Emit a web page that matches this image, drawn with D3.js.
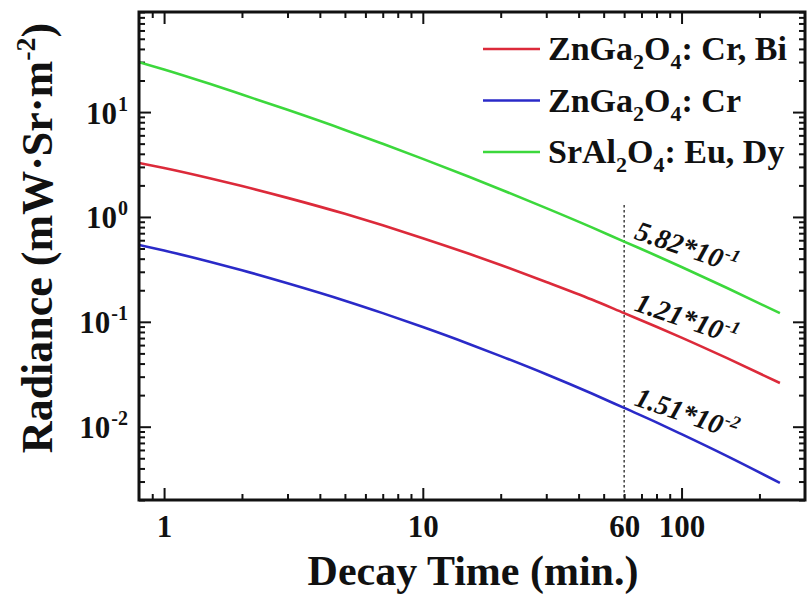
<!DOCTYPE html>
<html>
<head>
<meta charset="utf-8">
<script src="https://cdn.jsdelivr.net/npm/d3@7"></script>
</head>
<body style="margin:0;background:#fff">
<svg id="chart" width="807" height="598" style="display:block"></svg>
<script>
// Decay time (min) sampled along the afterglow curves
const times = [0.8, 1, 1.5, 2, 3, 5, 7, 10, 15, 20, 30, 45, 60, 80, 100, 150, 240];
// Radiance (mW·Sr·m^-2) for each phosphor
const znGaCrBi = [3.27, 2.93, 2.34, 1.97, 1.52, 1.07, 0.832, 0.628, 0.448, 0.348, 0.240, 0.163, 0.121, 0.0898, 0.0707, 0.0450, 0.0261];
const znGaCr   = [0.541, 0.479, 0.374, 0.310, 0.233, 0.159, 0.121, 0.0892, 0.0619, 0.0471, 0.0316, 0.0207, 0.0151, 0.0110, 0.00849, 0.00524, 0.00291];
const srAlEuDy = [29.9, 25.5, 18.6, 14.7, 10.5, 6.76, 4.98, 3.58, 2.43, 1.83, 1.215, 0.796, 0.582, 0.427, 0.333, 0.210, 0.121];

const seriesNames = [
  [["ZnGa", ""], ["2", "sub"], ["O", ""], ["4", "sub"], [": Cr, Bi", ""]],
  [["ZnGa", ""], ["2", "sub"], ["O", ""], ["4", "sub"], [": Cr", ""]],
  [["SrAl", ""], ["2", "sub"], ["O", ""], ["4", "sub"], [": Eu, Dy", ""]]
];
const seriesColors = ["#dc2a3a", "#2a2ac8", "#3cd83c"];

// Axis ticks
const xMajor = [1, 10, 100];
const xLabels = ["1", "10", "60", "100"];
const xLabelValues = [1, 10, 60, 100];
const xMinor = [0.9, 2, 3, 4, 5, 6, 7, 8, 9, 20, 30, 40, 50, 60, 70, 80, 90, 200];
const yMajor = [0.01, 0.1, 1, 10];
const yExponents = ["-2", "-1", "0", "1"];
const yMinor = [];
[0.001, 0.01, 0.1, 1, 10].forEach(d => { for (let k = 2; k <= 9; k++) yMinor.push(d * k); });

// Marked time and its readout
const markTime = 60;
const markLabels = [["5.82*10", "-1"], ["1.21*10", "-1"], ["1.51*10", "-2"]];

const serif = "Liberation Serif";
const ink = "#111";
const svg = d3.select("#chart")
  .attr("font-family", serif).attr("font-weight", "bold");
const plotLeft = 139, plotRight = 805, plotTop = 12, plotBottom = 500;

const x = d3.scaleLog().domain([0.8, 300]).range([plotLeft, plotRight]);
const y = d3.scaleLog().domain([0.002, 90]).range([plotBottom, plotTop]);

const yMinorIn = yMinor.filter(v => v >= 0.002 && v <= 90);

// Clip for the curves
svg.append("defs").append("clipPath").attr("id", "plotClip")
  .append("rect").attr("x", plotLeft).attr("y", plotTop)
  .attr("width", plotRight - plotLeft).attr("height", plotBottom - plotTop);

function tickAxis(gen, scale, values, size, transform) {
  const g = svg.append("g").attr("transform", transform)
    .call(gen(scale).tickValues(values).tickSize(size).tickFormat(""));
  g.select(".domain").remove();
  g.selectAll(".tick line").attr("stroke", ink).attr("stroke-width", 2);
  return g;
}

// Inward ticks on all four sides
tickAxis(d3.axisBottom, x, xMajor, -12, `translate(0,${plotBottom})`);
tickAxis(d3.axisBottom, x, xMinor, -6, `translate(0,${plotBottom})`);
tickAxis(d3.axisTop, x, xMajor, -12, `translate(0,${plotTop})`);
tickAxis(d3.axisTop, x, xMinor, -6, `translate(0,${plotTop})`);
tickAxis(d3.axisLeft, y, yMajor, -12, `translate(${plotLeft},0)`);
tickAxis(d3.axisLeft, y, yMinorIn, -6, `translate(${plotLeft},0)`);
tickAxis(d3.axisRight, y, yMajor, -12, `translate(${plotRight},0)`);
tickAxis(d3.axisRight, y, yMinorIn, -6, `translate(${plotRight},0)`);

// X tick labels
const xl = svg.append("g").attr("transform", `translate(0,${plotBottom})`)
  .call(d3.axisBottom(x).tickValues(xLabelValues).tickSize(0).tickPadding(0)
    .tickFormat((d, i) => xLabels[i]));
xl.attr("font-family", serif).attr("font-size", 31).attr("font-weight", "bold");
xl.select(".domain").remove();
xl.selectAll(".tick text").attr("y", 37).attr("dy", 0)
  .attr("font-family", serif).attr("font-weight", "bold").attr("font-size", 31).attr("fill", ink);

// Y tick labels with exponent
const yl = svg.append("g").attr("transform", `translate(${plotLeft},0)`)
  .call(d3.axisLeft(y).tickValues(yMajor).tickSize(0).tickPadding(0).tickFormat(""));
yl.attr("font-family", serif).attr("font-weight", "bold");
yl.select(".domain").remove();
yl.selectAll(".tick text").each(function(d, i) {
  const t = d3.select(this);
  t.attr("x", -11).attr("dy", 0).attr("y", 11).attr("text-anchor", "end").attr("fill", ink)
    .attr("font-family", serif).attr("font-weight", "bold");
  t.append("tspan").attr("font-size", 31).text("10");
  t.append("tspan").attr("font-size", 20).attr("dy", -13).attr("dx", 1).text(yExponents[i]);
});

// Dotted marker at the selected time
svg.append("line")
  .attr("x1", x(markTime)).attr("x2", x(markTime))
  .attr("y1", 205).attr("y2", plotBottom)
  .attr("stroke", "#222").attr("stroke-width", 1.3).attr("stroke-dasharray", "2.5,2.5");

// Curves
const allSeries = [znGaCrBi, znGaCr, srAlEuDy];
const line = d3.line().x(d => x(d[0])).y(d => y(d[1])).curve(d3.curveMonotoneX);
const curves = svg.append("g").attr("clip-path", "url(#plotClip)");
allSeries.forEach((vals, i) => {
  curves.append("path")
    .datum(times.map((t, k) => [t, vals[k]]))
    .attr("d", line)
    .attr("fill", "none")
    .attr("stroke", seriesColors[i])
    .attr("stroke-width", 2.6);
});

// Frame
svg.append("rect")
  .attr("x", plotLeft).attr("y", plotTop)
  .attr("width", plotRight - plotLeft).attr("height", plotBottom - plotTop)
  .attr("fill", "none").attr("stroke", ink).attr("stroke-width", 3);

// Readouts at the marked time
const markIndex = times.indexOf(markTime);
const markOrder = [srAlEuDy, znGaCrBi, znGaCr];
markOrder.forEach((vals, i) => {
  const px = x(markTime) + 9, py = y(vals[markIndex]) - 3;
  const t = svg.append("text")
    .attr("transform", `translate(${px},${py}) rotate(19)`)
    .attr("font-family", serif).attr("font-weight", "bold")
    .attr("font-style", "italic").attr("font-size", 28).attr("fill", ink);
  t.append("tspan").text(markLabels[i][0]);
  t.append("tspan").attr("font-size", 18).attr("dy", -11).attr("dx", 1).text(markLabels[i][1]);
});

// Legend
const legend = svg.append("g");
[0, 1, 2].forEach(i => {
  const base = 60 + i * 51.5;
  legend.append("line")
    .attr("x1", 483).attr("x2", 540).attr("y1", base - 11).attr("y2", base - 11)
    .attr("stroke", seriesColors[i]).attr("stroke-width", 2.6);
  const t = legend.append("text").attr("x", 548).attr("y", base)
    .attr("font-family", serif).attr("font-weight", "bold").attr("font-size", 34).attr("fill", ink);
  seriesNames[i].forEach(([s, kind], k) => {
    const ts = t.append("tspan").text(s);
    if (kind === "sub") ts.attr("font-size", 22).attr("dy", 9);
    else if (k > 0 && seriesNames[i][k - 1][1] === "sub") ts.attr("dy", -9);
  });
});

// Axis titles
svg.append("text")
  .attr("x", 473).attr("y", 585).attr("text-anchor", "middle")
  .attr("font-family", serif).attr("font-weight", "bold").attr("font-size", 42).attr("fill", ink)
  .text("Decay Time (min.)");

const yt = svg.append("text")
  .attr("transform", "translate(52,238) rotate(-90)")
  .attr("text-anchor", "middle")
  .attr("font-family", serif).attr("font-weight", "bold").attr("font-size", 44).attr("fill", ink);
yt.append("tspan").text("Radiance (mW·Sr·m");
yt.append("tspan").attr("font-size", 28).attr("dy", -17).text("-2");
yt.append("tspan").attr("dy", 17).text(")");
</script>
</body>
</html>
